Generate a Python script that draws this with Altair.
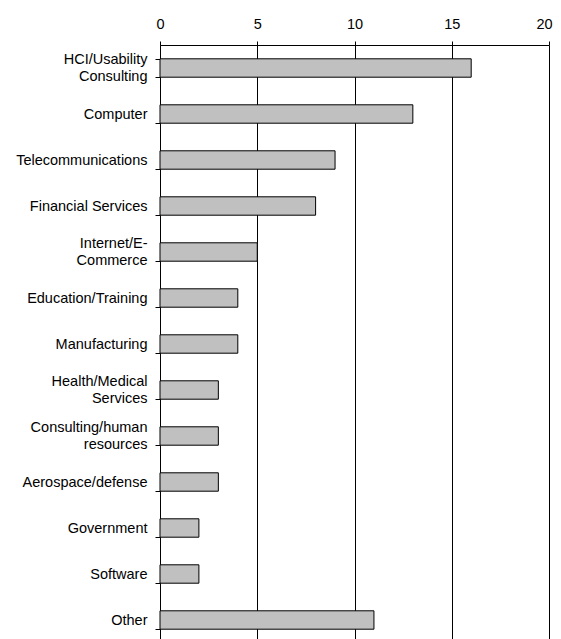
import altair as alt
import pandas as pd

categories = [
    "HCI/Usability|Consulting", "Computer", "Telecommunications",
    "Financial Services", "Internet/E-|Commerce", "Education/Training",
    "Manufacturing", "Health/Medical|Services", "Consulting/human|resources",
    "Aerospace/defense", "Government", "Software", "Other",
]
counts = [16, 13, 9, 8, 5, 4, 4, 3, 3, 3, 2, 2, 11]
x_ticks = [0, 5, 10, 15, 20]

df = pd.DataFrame({"category": categories, "count": counts})

FONT = "Liberation Sans"
FS = 14.5

chart = alt.Chart(df).mark_bar(
    color="#c0c0c0", stroke="black", strokeWidth=1
).encode(
    x=alt.X(
        "count:Q",
        scale=alt.Scale(domain=[0, 20], nice=False),
        axis=alt.Axis(
            orient="top", title=None, values=x_ticks, grid=True,
            gridColor="black", gridWidth=1, gridOpacity=1,
            domainColor="black", tickColor="black", tickSize=4,
            labelFont=FONT, labelFontSize=FS, labelColor="black",
            labelPadding=10, labelFlush=False,
            labelOffset=alt.condition(
                "datum.value == 20", alt.value(-5), alt.value(0)
            ),
        ),
    ),
    y=alt.Y(
        "category:N",
        sort=categories,
        scale=alt.Scale(paddingInner=0.6, paddingOuter=0.3),
        axis=alt.Axis(
            title=None, tickBand="extent", tickSize=5, tickColor="black",
            domainColor="black", labelFont=FONT, labelFontSize=FS,
            labelColor="black", labelPadding=8, labelLimit=200,
            labelLineHeight=17,
            labelOffset=alt.condition(
                "indexof(datum.label, '|') >= 0", alt.value(-8.5), alt.value(0)
            ),
            labelExpr="split(datum.label, '|')",
        ),
    ),
).properties(
    width=389, height=598,
    autosize=alt.AutoSizeParams(type="none"),
    padding={"left": 152, "top": 37, "right": 4, "bottom": 0},
).configure_view(stroke=None)

chart.save("out.html", embed_options={"renderer": "svg", "actions": False})
